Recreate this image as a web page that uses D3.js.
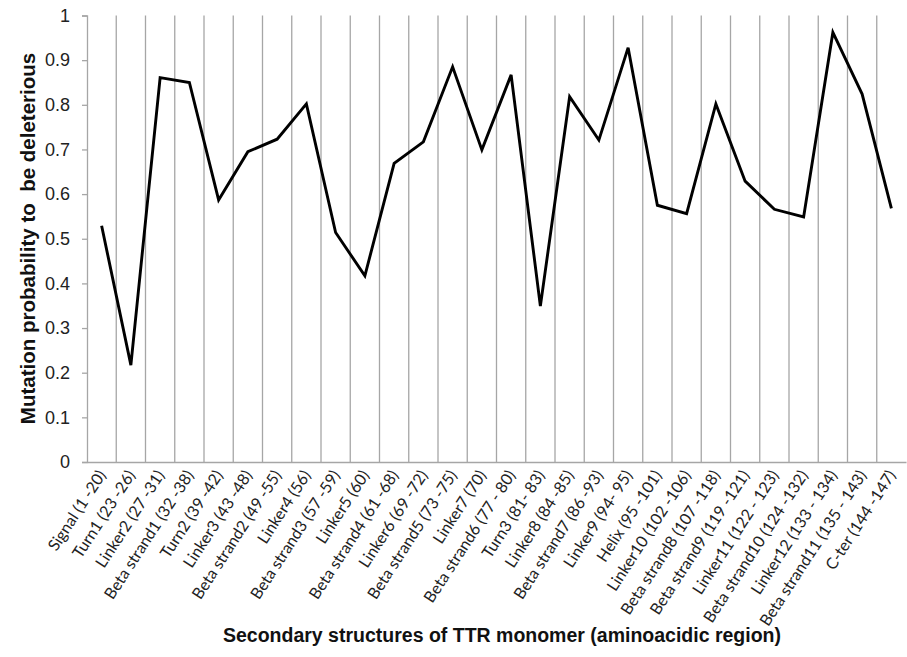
<!DOCTYPE html>
<html>
<head>
<meta charset="utf-8">
<script src="https://cdn.jsdelivr.net/npm/d3@7"></script>
<style>
  html, body { margin: 0; padding: 0; background: #fff; }
  svg { display: block; }
</style>
</head>
<body>
<svg id="chart" width="907" height="657"></svg>
<script>
const categories = [
  "Signal (1 -20)", "Turn1 (23 -26)", "Linker2 (27 -31)", "Beta strand1 (32 -38)",
  "Turn2 (39 -42)", "Linker3 (43 -48)", "Beta strand2 (49 -55)", "Linker4 (56)",
  "Beta strand3 (57 -59)", "Linker5 (60)", "Beta strand4 (61 -68)", "Linker6 (69 -72)",
  "Beta strand5 (73 -75)", "Linker7 (70)", "Beta strand6 (77 - 80)", "Turn3 (81- 83)",
  "Linker8 (84 -85)", "Beta strand7 (86 -93)", "Linker9 (94- 95)", "Helix (95 -101)",
  "Linker10 (102 -106)", "Beta strand8 (107 -118)", "Beta strand9 (119 -121)", "Linker11 (122 - 123)",
  "Beta strand10 (124 -132)", "Linker12 (133 - 134)", "Beta strand11 (135 - 143)", "C-ter (144 -147)"
];
const probability = [
  0.529, 0.217, 0.861, 0.850, 0.587, 0.695, 0.723, 0.802,
  0.514, 0.417, 0.669, 0.717, 0.885, 0.699, 0.867, 0.349,
  0.818, 0.721, 0.928, 0.575, 0.556, 0.802, 0.629, 0.566,
  0.549, 0.962, 0.824, 0.568
];
const yTicks = [0, 0.1, 0.2, 0.3, 0.4, 0.5, 0.6, 0.7, 0.8, 0.9, 1];
const yTitle = "Mutation probability to  be deleterious";
const xTitle = "Secondary structures of TTR monomer (aminoacidic region)";

const svg = d3.select("#chart");
const mLeft = 87, mRight = 906, mTop = 15.5, mBottom = 462;

const x = d3.scaleBand().domain(categories).range([mLeft, mRight]).padding(0);
const y = d3.scaleLinear().domain([0, 1]).range([mBottom, mTop]);

const grid = "#a6a6a6";

// vertical gridlines at category boundaries
svg.append("g").selectAll("line")
  .data(categories.slice(1))
  .join("line")
  .attr("x1", d => x(d)).attr("x2", d => x(d))
  .attr("y1", y(1)).attr("y2", y(0))
  .attr("stroke", grid).attr("stroke-width", 1.3);

// y axis
const yAxis = svg.append("g")
  .attr("transform", `translate(${mLeft},0)`)
  .call(d3.axisLeft(y).tickValues(yTicks).tickSize(5).tickPadding(12)
        .tickFormat(d => d === 0 ? "0" : d === 1 ? "1" : d3.format(".1f")(d)));
yAxis.select(".domain").attr("stroke", grid).attr("stroke-width", 1.3);
yAxis.selectAll(".tick line").attr("stroke", grid).attr("stroke-width", 1.3);
yAxis.selectAll(".tick text")
  .attr("font-family", "Liberation Sans, Arial, sans-serif")
  .attr("font-size", 18).attr("fill", "#222");

// x axis
const xAxis = svg.append("g")
  .attr("transform", `translate(0,${mBottom})`)
  .call(d3.axisBottom(x).tickSize(0).tickPadding(0));
xAxis.select(".domain").attr("stroke", grid).attr("stroke-width", 1.3);
xAxis.selectAll(".tick text")
  .attr("font-family", "Lato, 'Open Sans', sans-serif")
  .attr("font-size", 16).attr("fill", "#222")
  .attr("text-anchor", "end")
  .attr("dy", 0)
  .attr("transform", "translate(5,13) rotate(-57)");

// line
const line = d3.line()
  .x((d, i) => x(categories[i]) + x.bandwidth() / 2)
  .y(d => y(d));
svg.append("path")
  .datum(probability)
  .attr("d", line)
  .attr("fill", "none")
  .attr("stroke", "#000")
  .attr("stroke-width", 2.9)
  .attr("stroke-linejoin", "miter");

// titles
svg.append("text")
  .attr("transform", `translate(35,238.5) rotate(-90)`)
  .attr("text-anchor", "middle")
  .attr("font-family", "Liberation Sans, Arial, sans-serif")
  .attr("font-weight", "bold").attr("font-size", 20.5).attr("fill", "#111")
  .style("white-space", "pre")
  .text(yTitle);

svg.append("text")
  .attr("x", 502).attr("y", 642)
  .attr("text-anchor", "middle")
  .attr("font-family", "Liberation Sans, Arial, sans-serif")
  .attr("font-weight", "bold").attr("font-size", 19.5).attr("fill", "#111")
  .text(xTitle);
</script>
</body>
</html>
